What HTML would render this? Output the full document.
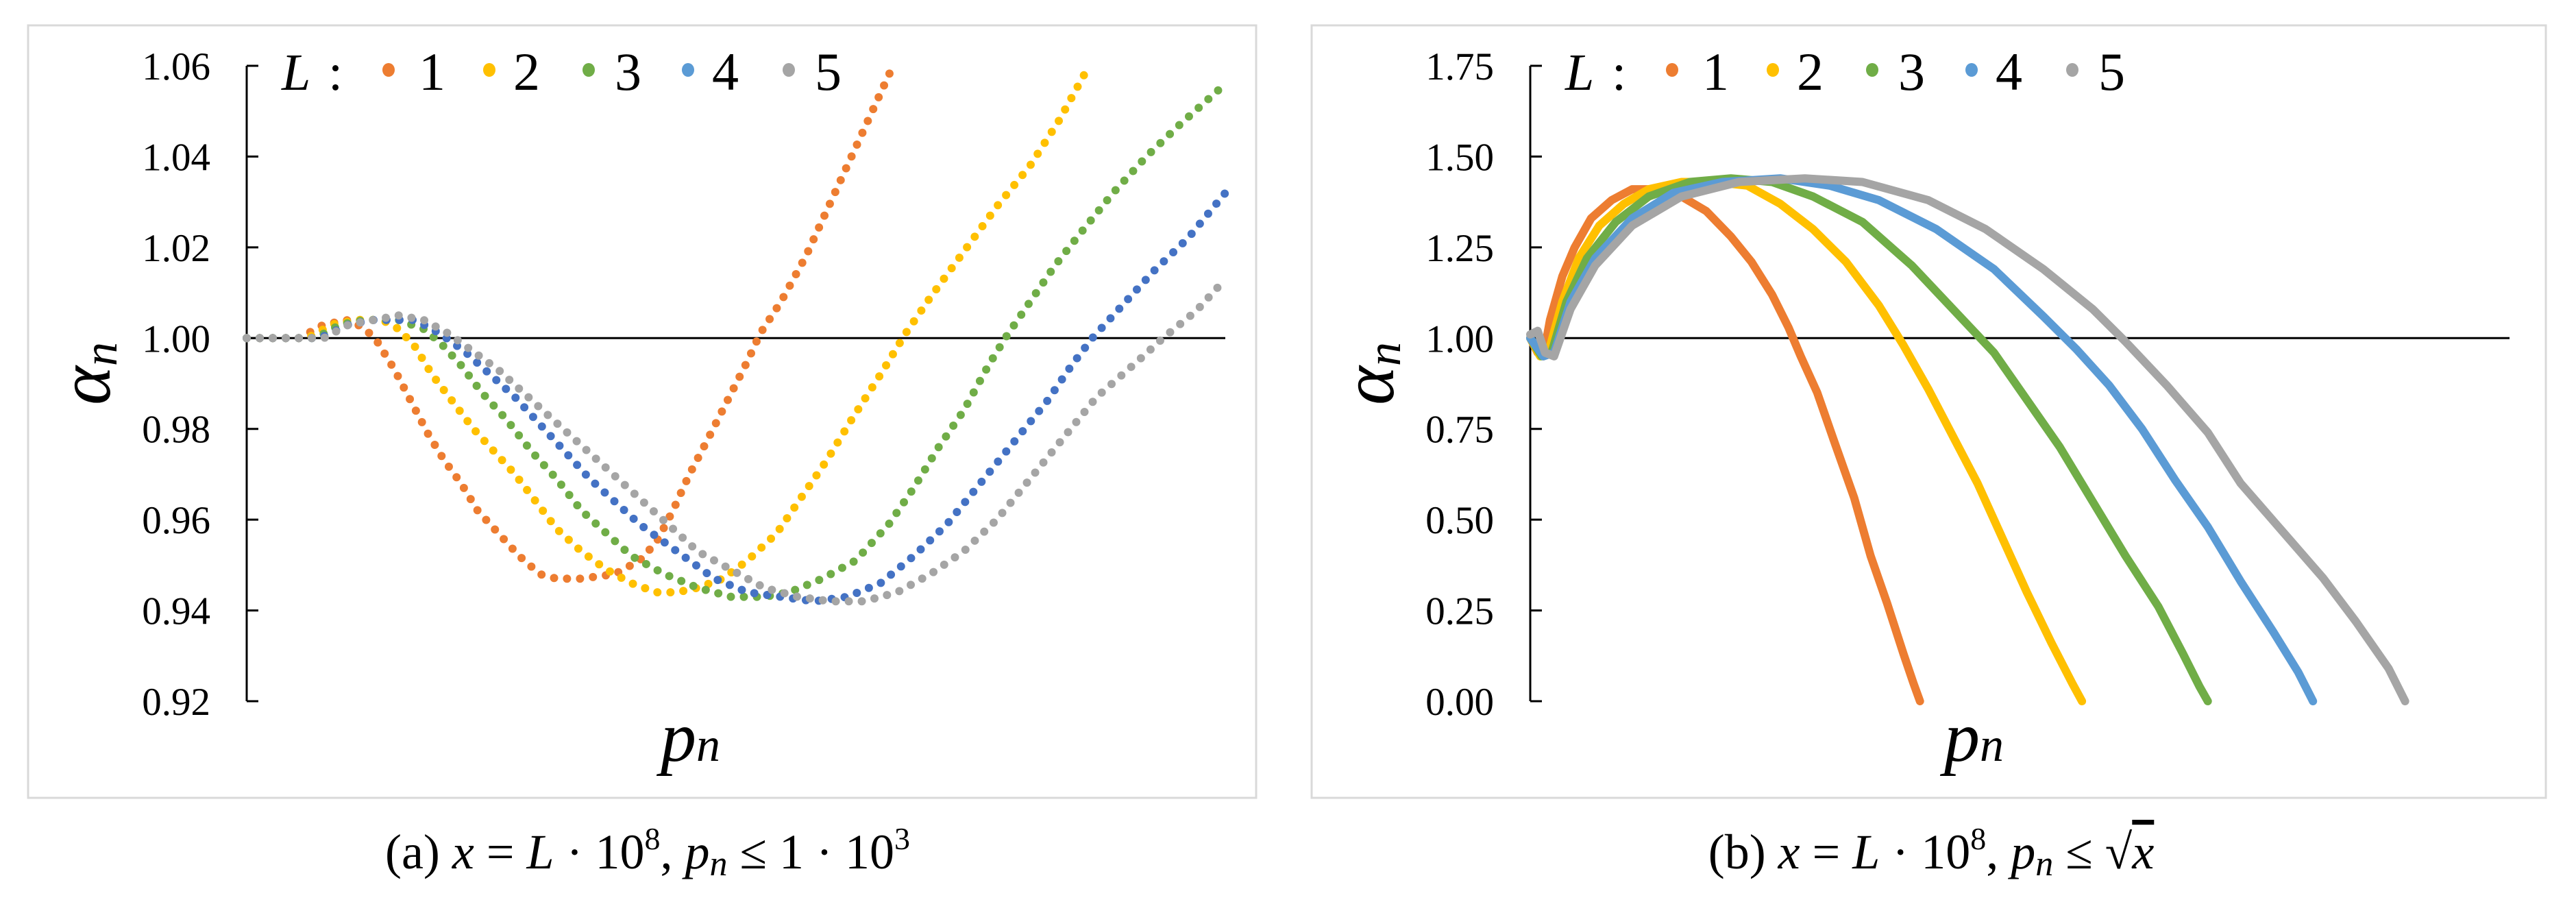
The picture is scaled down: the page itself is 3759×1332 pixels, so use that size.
<!DOCTYPE html>
<html><head><meta charset="utf-8"><style>
html,body{margin:0;padding:0;background:#fff;}
svg{display:block;font-family:"Liberation Serif",serif;}
</style></head><body>
<svg id="fig" width="3759" height="1332" viewBox="0 0 3759 1332" xmlns="http://www.w3.org/2000/svg">
<rect x="41" y="37" width="1792" height="1127" fill="none" stroke="#d9d9d9" stroke-width="3"/>
<rect x="1914" y="37" width="1801" height="1127" fill="none" stroke="#d9d9d9" stroke-width="3"/>
<g id="pa"></g>
<g id="pb"></g>
<text x="945" y="1267" font-size="72" text-anchor="middle">(a)  <tspan font-style="italic">x</tspan> = <tspan font-style="italic">L</tspan> · 10<tspan font-size="46" dy="-28">8</tspan><tspan dy="28">,  </tspan><tspan font-style="italic">p</tspan><tspan font-style="italic" font-size="52" dy="10">n</tspan><tspan dy="-10"> ≤ 1 · 10</tspan><tspan font-size="46" dy="-28">3</tspan></text>
<text x="2818" y="1267" font-size="72" text-anchor="middle">(b)  <tspan font-style="italic">x</tspan> = <tspan font-style="italic">L</tspan> · 10<tspan font-size="46" dy="-28">8</tspan><tspan dy="28">,  </tspan><tspan font-style="italic">p</tspan><tspan font-style="italic" font-size="52" dy="10">n</tspan><tspan dy="-10"> ≤ √</tspan><tspan font-style="italic" text-decoration="overline">x</tspan></text>
</svg>
<script>
const NS="http://www.w3.org/2000/svg";
const colors=["#ED7D31","#FFC000","#70AD47","#4472C4","#A5A5A5"];
const colorsB=["#ED7D31","#FFC000","#70AD47","#5B9BD5","#A5A5A5"];
const legendLabels=["1","2","3","4","5"];
const ticksA=[0.92,0.94,0.96,0.98,1.00,1.02,1.04,1.06];
const tickLabelsA=["0.92","0.94","0.96","0.98","1.00","1.02","1.04","1.06"];
const ticksB=[0,0.25,0.5,0.75,1,1.25,1.5,1.75];
const tickLabelsB=["0.00","0.25","0.50","0.75","1.00","1.25","1.50","1.75"];
// panel a (x in arbitrary p_n units)
const a1=[[297,1.000],[360,1.000],[390,1.003],[420,1.004],[440,1.002],[455,0.999],[475,0.993],[495,0.986],[515,0.979],[535,0.973],[555,0.968],[575,0.962],[600,0.957],[625,0.952],[650,0.948],[670,0.947],[700,0.947],[740,0.948],[770,0.951],[790,0.955],[810,0.962],[830,0.970],[850,0.977],[875,0.986],[900,0.995],[915,1.001],[940,1.008],[970,1.018],[1000,1.030],[1030,1.042],[1055,1.052],[1075,1.060]];
const a2=[[297,1.000],[370,1.000],[400,1.003],[430,1.004],[460,1.004],[480,1.002],[500,0.998],[520,0.992],[545,0.986],[570,0.980],[595,0.975],[620,0.970],[645,0.964],[670,0.958],[700,0.953],[730,0.949],[760,0.946],[790,0.944],[815,0.944],[840,0.945],[870,0.947],[900,0.951],[935,0.957],[965,0.965],[995,0.973],[1025,0.982],[1060,0.992],[1090,1.001],[1120,1.009],[1160,1.019],[1200,1.029],[1240,1.038],[1275,1.048],[1308,1.059]];
const a3=[[297,1.0],[380,1.0],[410,1.003],[440,1.004],[480,1.004],[510,1.002],[530,0.999],[555,0.994],[580,0.988],[610,0.982],[640,0.975],[670,0.969],[700,0.962],[730,0.957],[760,0.952],[800,0.948],[840,0.945],[880,0.943],[920,0.943],[950,0.944],[990,0.947],[1030,0.951],[1070,0.959],[1100,0.967],[1130,0.976],[1160,0.984],[1190,0.994],[1210,1.000],[1240,1.008],[1270,1.016],[1300,1.023],[1340,1.032],[1380,1.040],[1420,1.047],[1475,1.056]];
const a4=[[297,1.0],[385,1.0],[420,1.003],[450,1.004],[500,1.004],[530,1.001],[560,0.997],[590,0.992],[620,0.987],[650,0.981],[680,0.975],[710,0.969],[740,0.964],[770,0.959],[800,0.955],[830,0.951],[860,0.947],[900,0.944],[940,0.943],[980,0.942],[1020,0.943],[1060,0.946],[1100,0.952],[1140,0.959],[1180,0.968],[1220,0.977],[1260,0.986],[1290,0.994],[1315,1.000],[1350,1.007],[1390,1.015],[1430,1.022],[1475,1.032]];
const a5=[[297,1.0],[390,1.0],[420,1.003],[450,1.004],[480,1.005],[510,1.004],[540,1.001],[570,0.997],[600,0.993],[630,0.988],[660,0.983],[690,0.978],[720,0.973],[750,0.968],[780,0.963],[810,0.958],[840,0.953],[880,0.949],[920,0.945],[960,0.943],[1000,0.942],[1040,0.942],[1080,0.944],[1120,0.948],[1160,0.953],[1200,0.960],[1240,0.969],[1280,0.978],[1320,0.987],[1370,0.995],[1400,1.000],[1440,1.006],[1475,1.013]];
// panel b
const b1=[[296,1.00],[305,0.96],[312,0.95],[320,1.05],[335,1.17],[350,1.25],[370,1.33],[395,1.38],[420,1.41],[450,1.41],[480,1.39],[510,1.35],[540,1.28],[565,1.21],[590,1.12],[610,1.03],[625,0.95],[645,0.85],[665,0.72],[690,0.56],[710,0.40],[730,0.27],[750,0.13],[762,0.05],[770,0.00]];
const b2=[[296,1.0],[308,0.95],[318,0.96],[335,1.10],[355,1.22],[380,1.31],[410,1.37],[440,1.41],[480,1.43],[520,1.43],[560,1.42],[600,1.37],[640,1.30],[680,1.21],[720,1.09],[750,0.98],[780,0.86],[810,0.73],[840,0.60],[870,0.45],[900,0.30],[930,0.16],[955,0.05],[967,0.00]];
const b3=[[296,1.0],[310,0.95],[322,0.96],[340,1.10],[365,1.22],[400,1.32],[440,1.39],[490,1.43],[540,1.44],[590,1.43],[640,1.39],[700,1.32],[760,1.20],[810,1.08],[860,0.96],[900,0.83],[940,0.70],[980,0.55],[1020,0.40],[1060,0.26],[1090,0.13],[1110,0.04],[1120,0.00]];
const b4=[[296,1.0],[312,0.95],[325,0.96],[345,1.10],[375,1.22],[420,1.33],[470,1.40],[530,1.43],[600,1.44],[660,1.42],[720,1.38],[790,1.30],[860,1.19],[920,1.06],[960,0.97],[1000,0.87],[1040,0.75],[1080,0.61],[1120,0.48],[1160,0.33],[1200,0.19],[1230,0.08],[1248,0.00]];
const b5=[[296,1.01],[305,1.02],[314,0.96],[325,0.95],[345,1.08],[375,1.20],[420,1.31],[480,1.39],[550,1.43],[630,1.44],[700,1.43],[780,1.38],[850,1.30],[920,1.19],[980,1.08],[1020,0.99],[1070,0.87],[1120,0.74],[1160,0.60],[1210,0.47],[1260,0.34],[1300,0.22],[1340,0.09],[1360,0.00]];

function mk(tag,attrs,parent){const e=document.createElementNS(NS,tag);for(const k in attrs)e.setAttribute(k,attrs[k]);parent.appendChild(e);return e;}
function lin(d0,d1,r0,r1){return v=>r0+(v-d0)*(r1-r0)/(d1-d0);}

function panel(g,id,ax,xEnd,xd,yd,ticks,labels,series,cols,dotted){
  const X=lin(xd[0],xd[1],ax,xEnd), Y=lin(yd[0],yd[1],1023,96);
  const yAxis=mk('line',{x1:ax,y1:96,x2:ax,y2:1023,stroke:'#000','stroke-width':3},g);
  
  
  ticks.forEach((t,i)=>{
    const tk=mk('line',{x1:ax,y1:Y(t),x2:ax+17,y2:Y(t),stroke:'#000','stroke-width':3},g);
    
    
    const tl=mk('text',{x:ax-53,y:Y(t)+20,'font-size':57,'text-anchor':'end'},g);
    tl.textContent=labels[i];
    
    
  });
  const ref=mk('line',{x1:ax,y1:Y(1),x2:xEnd,y2:Y(1),stroke:'#000','stroke-width':3},g);
  
  
  series.forEach((s,i)=>{
    const d=s.map((p,j)=>(j?'L':'M')+X(p[0]).toFixed(1)+' '+Y(p[1]).toFixed(1)).join(' ');
    const at={d:d,fill:'none',stroke:cols[i],'stroke-width':12,'stroke-linecap':'round','stroke-linejoin':'round'};
    if(dotted)at['stroke-dasharray']='0 19';
    const p=mk('path',at,g);
    
    
  });
  const off=ax-361;
  const lt=mk('text',{x:412+off,y:131,'font-size':76,'font-style':'italic'},g);
  lt.textContent='L';
  
  
  const lc=mk('text',{x:480+off,y:131,'font-size':76},g);
  lc.textContent=':';
  
  
  const mx=[568,715,860,1005,1152], tx=[612,750,898,1040,1190];
  legendLabels.forEach((l,i)=>{
    const c=mk('ellipse',{cx:mx[i]+off,cy:102,rx:9,ry:10,fill:i===3?'#5B9BD5':cols[i]},g);
    
    
    const t=mk('text',{x:tx[i]+off,y:131,'font-size':78},g);
    t.textContent=l;
    
    
  });
  const yt=mk('text',{x:0,y:0,'font-size':108,'font-style':'italic',transform:'translate('+(ax-200)+',545) rotate(-90)','text-anchor':'middle'},g);
  yt.innerHTML='α<tspan font-size="70" dy="10">n</tspan>';
  
  
  const xt=mk('text',{x:ax+604,y:1110,'font-size':104,'font-style':'italic'},g);
  xt.innerHTML='p<tspan font-size="70">n</tspan>';
  
  
}
panel(document.getElementById('pa'),'panel-a',360,1788,[297,1475],[0.92,1.06],ticksA,tickLabelsA,[a1,a2,a3,a4,a5],colors,true);
panel(document.getElementById('pb'),'panel-b',2233,3662,[296,1487],[0,1.75],ticksB,tickLabelsB,[b1,b2,b3,b4,b5],colorsB,false);
</script>
</body></html>
